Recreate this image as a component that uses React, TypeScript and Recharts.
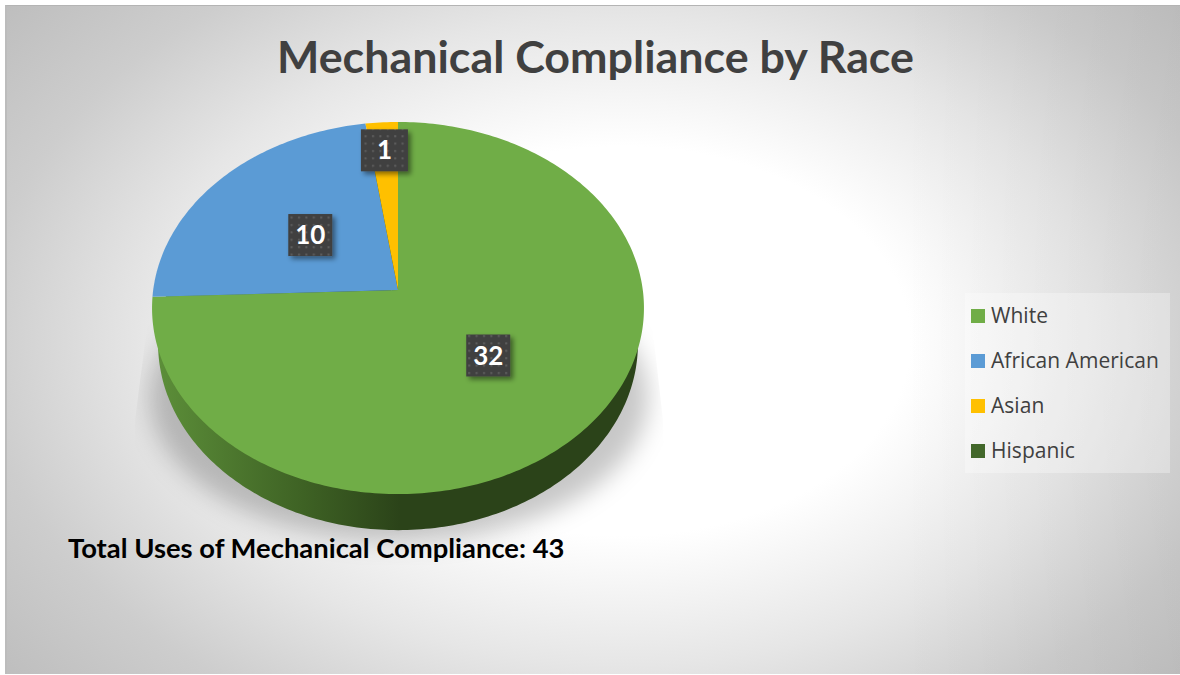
import React from "react";
import { PieChart, Pie, Cell, Legend } from "recharts";

const categories = ["White", "African American", "Asian", "Hispanic"];
const counts = [32, 10, 1, 0];
const colors = ["#70ad47", "#5b9bd5", "#ffc000", "#43682b"];
const rows = categories.map((name, i) => ({ name, value: counts[i] }));

const RAD = Math.PI / 180;
const TILT = 0.0968;
const NO_MARGIN = { top: 0, right: 0, bottom: 0, left: 0 };
const project = (cx: number, cy: number, rx: number, ry: number, deg: number, f = 1) => {
  const u = Math.cos(deg * RAD) * f;
  const v = Math.sin(deg * RAD) * f;
  const w = 1 + TILT * v;
  return [cx + (rx * u) / w, cy - (ry * v) / w];
};

const sectorPath = (cx: number, cy: number, rx: number, ry: number, a0: number, a1: number) => {
  const n = Math.max(2, Math.ceil(Math.abs(a1 - a0)));
  const pts = [`M${cx},${cy}`];
  for (let i = 0; i <= n; i++) {
    const [x, y] = project(cx, cy, rx, ry, a0 + ((a1 - a0) * i) / n);
    pts.push(`L${x.toFixed(2)},${y.toFixed(2)}`);
  }
  return pts.join("") + "Z";
};

const TopSector = (p: any) => {
  if (Math.abs(p.endAngle - p.startAngle) < 0.01) return <g />;
  return <path d={sectorPath(p.cx, p.cy, p.outerRadius, p.outerRadius * 0.7529, p.startAngle, p.endAngle)} fill={p.fill} stroke="none" />;
};

const WallSector = (p: any) => {
  if (Math.abs(p.endAngle - p.startAngle) < 0.01) return <g />;
  return <path d={sectorPath(p.cx, p.cy, p.outerRadius, p.outerRadius * 0.774, p.startAngle, p.endAngle)} fill="url(#wallGrad)" stroke="none" />;
};

const labelDepth: Record<string, number> = { White: 0.495, "African American": 0.48, Asian: 0.82 };

const BoxLabel = (p: any) => {
  if (!p.value) return null;
  const [x, y] = project(p.cx, p.cy, p.outerRadius, p.outerRadius * 0.7529, p.midAngle, labelDepth[p.name] ?? 0.5);
  const w = p.value === 1 ? 47 : 44;
  const h = 42;
  return (
    <g>
      <rect x={x - w / 2} y={y - h / 2} width={w} height={h} fill="url(#dots)" filter="url(#boxShadow)" />
      <text x={x} y={y + 9} textAnchor="middle" fontFamily="Lato, sans-serif" fontWeight={700} fontSize={26} fill="#ffffff">
        {p.value}
      </text>
    </g>
  );
};

const LegendBox = ({ payload }: any) => (
  <div style={{ width: 205, height: 180, background: "rgba(255,255,255,0.3)", position: "relative" }}>
    {(payload || []).map((e: any, i: number) => (
      <div key={e.value} style={{ position: "absolute", left: 6, top: 23 + i * 45 - 15, height: 30, display: "flex", alignItems: "center" }}>
        <span style={{ width: 14, height: 14, background: e.color, display: "inline-block", marginRight: 6 }} />
        <span style={{ fontFamily: "'Open Sans', sans-serif", fontSize: 21, letterSpacing: 0.04, color: "#404040", whiteSpace: "nowrap", position: "relative", top: -1 }}>{e.value}</span>
      </div>
    ))}
  </div>
);

export default function App() {
  return (
    <div style={{ position: "absolute", left: 0, top: 0, width: 1180, height: 675, background: "#fff", overflow: "hidden" }}>
      <div
        style={{
          position: "absolute", left: 5, top: 5, width: 1175, height: 669,
          background:
            "linear-gradient(to right, rgba(0,0,0,0) 76%, rgba(0,0,0,0.04) 100%), radial-gradient(ellipse 800px 540px at 615px 335px, #ffffff 0%, #ffffff 36%, #e6e6e6 60%, #cdcdcd 80%, #bdbdbd 100%)",
          borderTop: "1px solid #b4b4b4", borderLeft: "2px solid #bcbcbc", boxSizing: "border-box",
        }}
      />
      <div style={{ position: "absolute", left: 130, top: 295, width: 540, height: 270, clipPath: "polygon(21px 0, 519px 0, 533px 125px, 540px 270px, 0 270px, 5px 125px)" }}>
        <div style={{ position: "absolute", left: 20, top: -42, width: 498, height: 288, borderRadius: "50%", background: "rgba(0,0,0,0.22)", filter: "blur(12px)" }} />
      </div>
      <div style={{ position: "absolute", left: 0, top: 29, width: 1191, textAlign: "center", fontFamily: "Lato, sans-serif", fontWeight: 700, fontSize: 44.8, color: "#404040", whiteSpace: "nowrap" }}>
        Mechanical Compliance by Race
      </div>
      <PieChart width={1180} height={675} margin={NO_MARGIN} style={{ position: "absolute", left: 0, top: 0 }}>
        <defs>
          <linearGradient id="wallGrad" gradientUnits="userSpaceOnUse" x1="158" y1="0" x2="400" y2="0">
            <stop offset="0" stopColor="#5c8e39" />
            <stop offset="0.6" stopColor="#3e6224" />
            <stop offset="1" stopColor="#2b4319" />
          </linearGradient>
        </defs>
        <Pie data={rows} dataKey="value" nameKey="name" cx={398} cy={325.5} outerRadius={238.8} startAngle={90} endAngle={-270} stroke="none" shape={WallSector} isAnimationActive={false} label={false} labelLine={false}>
          {rows.map((r) => <Cell key={r.name} fill="#2b4319" />)}
        </Pie>
      </PieChart>
      <PieChart width={1180} height={675} margin={NO_MARGIN} style={{ position: "absolute", left: 0, top: 0 }}>
        <defs>
          <pattern id="dots" width="7.4" height="7.4" patternUnits="userSpaceOnUse">
            <rect width="7.4" height="7.4" fill="#404040" />
            <rect x="2" y="2" width="2" height="2" fill="#5e5e5e" />
          </pattern>
          <filter id="boxShadow" x="-30%" y="-30%" width="170%" height="170%">
            <feDropShadow dx="3" dy="3" stdDeviation="2.5" floodColor="#000" floodOpacity="0.45" />
          </filter>
        </defs>
        <Pie data={rows} dataKey="value" nameKey="name" cx={398} cy={290} outerRadius={244.8} startAngle={90} endAngle={-270} stroke="none" shape={TopSector} label={BoxLabel} labelLine={false} isAnimationActive={false}>
          {rows.map((r, i) => <Cell key={r.name} fill={colors[i]} />)}
        </Pie>
        <Legend layout="vertical" itemSorter={null} content={<LegendBox />} wrapperStyle={{ left: 965, top: 293, width: 205, height: 180 }} />
      </PieChart>
      <div style={{ position: "absolute", left: 68, top: 531, fontFamily: "Lato, sans-serif", fontWeight: 700, fontSize: 27.4, color: "#000", whiteSpace: "nowrap" }}>
        Total Uses of Mechanical Compliance: 43
      </div>
    </div>
  );
}
